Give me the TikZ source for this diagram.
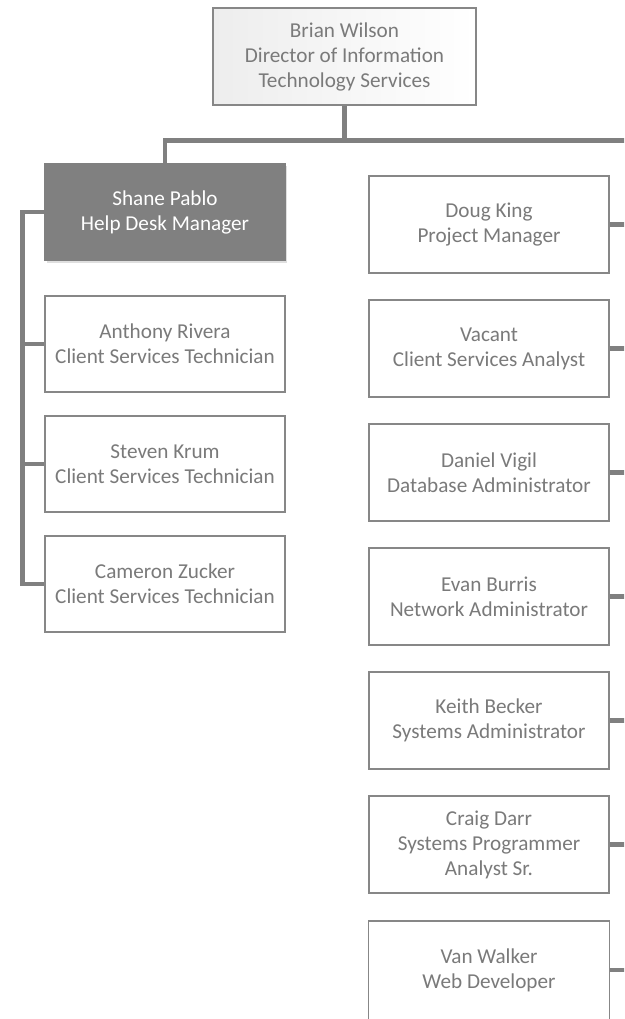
\documentclass[tikz,border=0pt]{standalone}
\usepackage{fontspec}
\setmainfont{Carlito}
\usetikzlibrary{shadows}
\definecolor{conn}{RGB}{128,128,128}
\definecolor{bord}{RGB}{135,135,135}
\definecolor{txt}{RGB}{122,122,122}
\definecolor{mgr}{RGB}{128,128,128}
\begin{document}
\begin{tikzpicture}[x=1pt,y=-1pt,
  card/.style={draw=bord, line width=1.4pt, fill=white, rectangle, align=center,
    minimum width=240pt, minimum height=96pt, inner sep=0pt, text=txt,
    font=\fontsize{21.2}{25}\selectfont},
  topcard/.style={card, minimum width=263pt, minimum height=97pt, left color=black!7, right color=white},
  mgrcard/.style={card, fill=mgr, draw=mgr, text=white,
    drop shadow={opacity=0.25, shadow xshift=1.5pt, shadow yshift=-2.5pt}},
  rcard/.style={card, minimum height=97pt},
  link/.style={draw=conn, line width=4.5pt}]
\useasboundingbox (0,0) rectangle (624,1019);
\clip (0,0) rectangle (624,1019);
\fill[white] (0,0) rectangle (624,1019);

\node[topcard] (top) at (344.5,56.5) {Brian Wilson\\Director of Information\\Technology Services};
\node[mgrcard] (shane) at (165,212) {Shane Pablo\\Help Desk Manager};
\node[card] (anthony) at (165,344) {Anthony Rivera\\Client Services Technician};
\node[card] (steven) at (165,464) {Steven Krum\\Client Services Technician};
\node[card] (cameron) at (165,584) {Cameron Zucker\\Client Services Technician};

\node[rcard] (doug) at (489,224.5) {Doug King\\Project Manager};
\node[rcard] (vacant) at (489,348.5) {Vacant\\Client Services Analyst};
\node[rcard] (daniel) at (489,472.5) {Daniel Vigil\\Database Administrator};
\node[rcard] (evan) at (489,596.5) {Evan Burris\\Network Administrator};
\node[rcard] (keith) at (489,720.5) {Keith Becker\\Systems Administrator};
\node[rcard] (craig) at (489,844.5) {Craig Darr\\Systems Programmer\\Analyst Sr.};
\node[rcard, draw=none] (van) at (489,970) {Van Walker\\Web Developer};
\draw[draw=bord, line width=1.4pt] ([yshift=-15pt]van.south west) -- (van.north west) -- (van.north east) -- ([yshift=-15pt]van.south east);

\coordinate (bus) at (344.5,140.5);
\coordinate (rbus) at (634,140.5);
\coordinate (lbus) at (22.5,212);

\draw[link] (top.south) -- (bus) -| (shane.north);
\draw[link] (bus) -- (rbus) -- (rbus |- van.east);
\foreach \n in {doug,vacant,daniel,evan,keith,craig,van}
  \draw[link] (\n.east) -- (\n.east -| rbus);
\draw[link] (shane.west) -- (lbus) |- (cameron.west);
\foreach \n in {anthony,steven}
  \draw[link] (\n.west) -- (\n.west -| lbus);
\end{tikzpicture}
\end{document}
